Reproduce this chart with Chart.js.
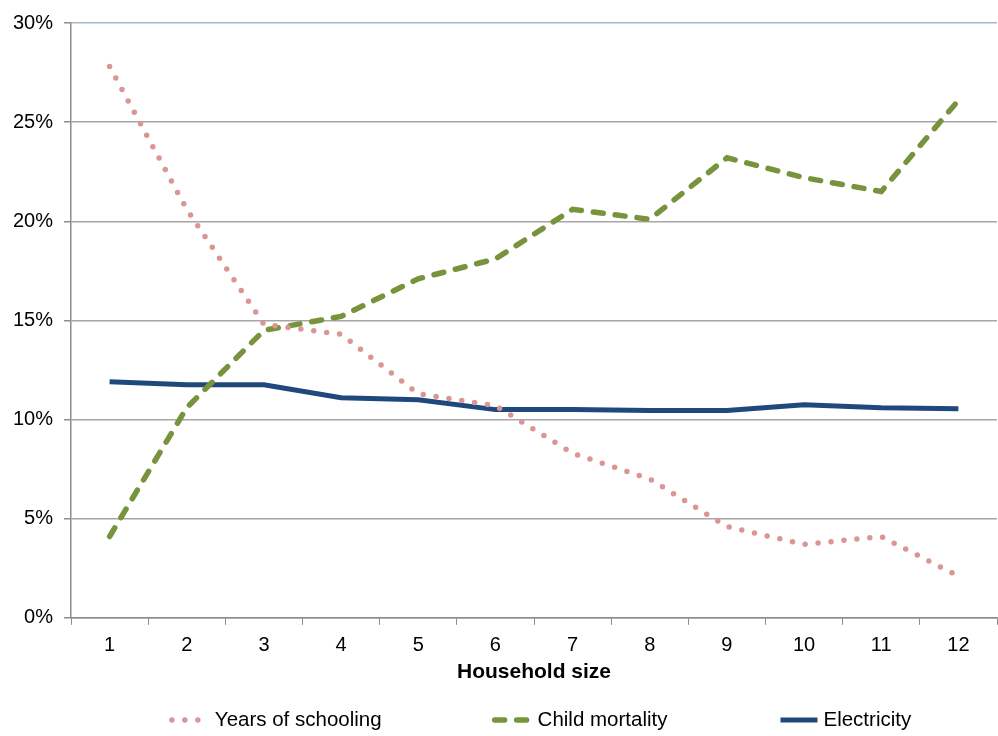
<!DOCTYPE html>
<html>
<head>
<meta charset="utf-8">
<script src="https://cdn.jsdelivr.net/npm/chart.js@4.4.1/dist/chart.umd.min.js"></script>
<style>
  html, body { margin: 0; padding: 0; background: #fff; }
  #wrap { width: 998px; height: 736px; }
</style>
</head>
<body>
<div id="wrap"><canvas id="householdChart" width="998" height="736"></canvas></div>
<script>
// Household size categories
const householdSizes = ['1', '2', '3', '4', '5', '6', '7', '8', '9', '10', '11', '12'];

// Shares in percent for each indicator
const yearsOfSchooling = [27.8, 20.6, 14.8, 14.3, 11.3, 10.7, 8.3, 7.0, 4.6, 3.7, 4.1, 2.1];
const childMortality   = [4.1, 10.6, 14.5, 15.2, 17.1, 18.1, 20.6, 20.1, 23.2, 22.2, 21.5, 26.1];
const electricity      = [11.9, 11.75, 11.75, 11.1, 11.0, 10.5, 10.5, 10.45, 10.45, 10.75, 10.6, 10.55];

const axisColor = '#8c8c8c';
const gridColor = '#a6a6a6';
const fontFamily = '"Liberation Sans", Arial, sans-serif';
const tickFont = { family: fontFamily, size: 20 };

// Legend drawn under the axis title, line samples use each dataset's own style
const bottomLegend = {
    id: 'bottomLegend',
    afterDraw(chart) {
        const ctx = chart.ctx;
        const area = chart.chartArea;
        const sampleW = 40, textGap = 6, itemGap = 110;
        const y = chart.height - 16;
        ctx.save();
        ctx.font = '20.5px ' + fontFamily;
        const items = chart.data.datasets.map(ds => ({ ds, w: ctx.measureText(ds.label).width }));
        const total = items.reduce((s, it) => s + sampleW + textGap + it.w, 0) + itemGap * (items.length - 1);
        let x = (area.left + area.right) / 2 + 6 - total / 2;
        items.forEach(({ ds, w }) => {
            ctx.beginPath();
            ctx.lineWidth = ds.borderWidth;
            ctx.strokeStyle = ds.borderColor;
            ctx.lineCap = ds.borderCapStyle || 'butt';
            ctx.setLineDash(ds.borderDash || []);
            ctx.moveTo(x + 3, y);
            ctx.lineTo(x + sampleW, y);
            ctx.stroke();
            ctx.setLineDash([]);
            ctx.fillStyle = '#000';
            ctx.textBaseline = 'middle';
            ctx.textAlign = 'left';
            ctx.fillText(ds.label, x + sampleW + textGap, y);
            x += sampleW + textGap + w + itemGap;
        });
        ctx.restore();
    }
};

function createHouseholdChart() {
    const ctx = document.getElementById('householdChart').getContext('2d');
    new Chart(ctx, {
        type: 'line',
        data: {
            labels: householdSizes,
            datasets: [
                {
                    label: 'Years of schooling',
                    data: yearsOfSchooling,
                    borderColor: '#d99694',
                    borderWidth: 5.5,
                    borderDash: [0, 13],
                    borderCapStyle: 'round',
                    pointRadius: 0,
                    tension: 0
                },
                {
                    label: 'Child mortality',
                    data: childMortality,
                    borderColor: '#77933c',
                    borderWidth: 5.5,
                    borderDash: [10, 12],
                    borderCapStyle: 'round',
                    pointRadius: 0,
                    tension: 0
                },
                {
                    label: 'Electricity',
                    data: electricity,
                    borderColor: '#1f497d',
                    borderWidth: 5,
                    pointRadius: 0,
                    tension: 0
                }
            ]
        },
        plugins: [bottomLegend],
        options: {
            responsive: false,
            animation: false,
            layout: { padding: { top: 8, right: 1, left: 2, bottom: 51 } },
            plugins: {
                tooltip: { enabled: false },
                legend: { display: false }
            },
            scales: {
                x: {
                    offset: true,
                    grid: {
                        offset: true,
                        drawOnChartArea: false,
                        color: axisColor,
                        tickLength: 7
                    },
                    border: { color: axisColor, width: 1.5 },
                    ticks: { font: tickFont, color: '#000', padding: 9 },
                    title: {
                        display: true,
                        text: 'Household size',
                        font: { family: fontFamily, size: 21, weight: 'bold' },
                        color: '#000',
                        padding: { top: -7, bottom: 0 }
                    }
                },
                y: {
                    min: 0,
                    max: 30,
                    ticks: {
                        stepSize: 5,
                        font: tickFont,
                        color: '#000',
                        padding: 11,
                        callback: v => v + '%'
                    },
                    grid: {
                        color: c => (c.tick && c.tick.value === 30 ? '#a7b7cf' : gridColor),
                        tickColor: axisColor,
                        lineWidth: 1.5,
                        tickLength: 7
                    },
                    border: { color: axisColor, width: 1.5 }
                }
            }
        }
    });
}

document.addEventListener('DOMContentLoaded', createHouseholdChart);
</script>
</body>
</html>
